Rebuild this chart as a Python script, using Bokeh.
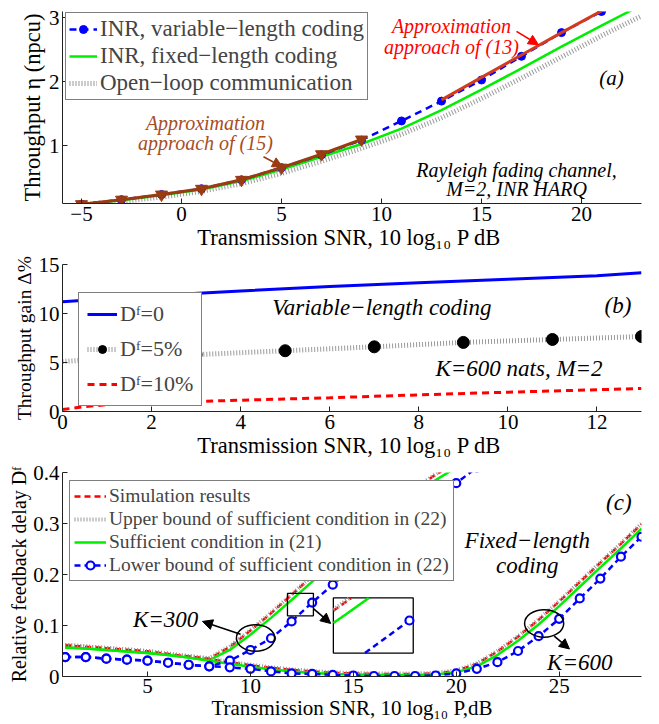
from bokeh.plotting import figure
from bokeh.layouts import column
from bokeh.models import Legend, LegendItem, Label, Arrow, NormalHead, Range1d, FixedTicker, Title
from bokeh.embed import file_html
from bokeh.resources import INLINE
import numpy as np

SERIF = "Liberation Serif"
BLUE = "#0000ff"
GREEN = "#00ee00"
GREY = "#9a9a9a"
RED = "#ff0000"
BROWN = "#9a3b12"
ORANGE_RED = "#d23c1e"
TXT15 = "#a84c24"

# ---------------- panel (a) data ----------------
a_x = [-5, -3, -1, 1, 3, 5, 7, 9, 11, 13, 15, 17, 19, 21]
a_var = [0.09, 0.16, 0.24, 0.33, 0.47, 0.66, 0.86, 1.09, 1.39, 1.70, 2.03, 2.40, 2.77, 3.10]
a_fix_x = [-5, -3, -1, 1, 3, 5, 7, 9, 11, 13, 15, 17, 19, 21, 22.5]
a_fix = [0.09, 0.15, 0.23, 0.32, 0.45, 0.63, 0.83, 1.03, 1.27, 1.56, 1.88, 2.21, 2.55, 2.88, 3.12]
a_ol_x = [-5, -3, -1, 1, 3, 5, 7, 9, 11, 13, 15, 17, 19, 21, 23]
a_ol = [0.08, 0.13, 0.20, 0.29, 0.41, 0.57, 0.76, 0.96, 1.18, 1.44, 1.74, 2.06, 2.39, 2.72, 3.03]
a_ap15_x = [-5, -3, -1, 1, 3, 5, 7, 9]
a_ap15 = [0.09, 0.16, 0.24, 0.33, 0.47, 0.66, 0.87, 1.10]
a_ap13_x = [13, 15, 17, 19, 21]
a_ap13 = [1.72, 2.07, 2.42, 2.77, 3.11]
a_xticks = [-5, 0, 5, 10, 15, 20]
a_yticks = [1, 2, 3]

# ---------------- panel (b) data ----------------
b_d0_x = [0, 2, 4, 6, 8, 10, 12, 13]
b_d0 = [11.2, 11.8, 12.3, 12.75, 13.15, 13.5, 13.85, 14.15]
b_d5_x = [0, 1, 3, 5, 7, 9, 11, 13]
b_d5 = [5.1, 5.4, 5.8, 6.2, 6.6, 7.05, 7.35, 7.65]
b_d5_mx = [1, 3, 5, 7, 9, 11, 13]
b_d5_m = [5.4, 5.8, 6.2, 6.6, 7.05, 7.35, 7.65]
b_d10_x = [0, 0.5, 1, 2, 4, 6, 8, 10, 12, 13]
b_d10 = [0.2, 0.5, 0.7, 0.9, 1.15, 1.4, 1.7, 1.97, 2.22, 2.35]
b_xticks = [0, 2, 4, 6, 8, 10, 12]
b_yticks = [0, 5, 10, 15]

# ---------------- panel (c) data ----------------
c300_x = list(range(1, 21))
c300_sim = [0.061, 0.058, 0.055, 0.052, 0.049, 0.044, 0.039, 0.035, 0.058, 0.090,
            0.124, 0.160, 0.197, 0.234, 0.270, 0.305, 0.338, 0.368, 0.396, 0.420]
c300_up = [0.062, 0.059, 0.056, 0.053, 0.050, 0.045, 0.040, 0.036, 0.059, 0.091,
           0.125, 0.161, 0.198, 0.235, 0.271, 0.306, 0.339, 0.369, 0.397, 0.421]
c300_suf = [0.057, 0.055, 0.052, 0.049, 0.046, 0.042, 0.037, 0.032, 0.052, 0.082,
            0.115, 0.150, 0.186, 0.222, 0.258, 0.293, 0.326, 0.357, 0.385, 0.410]
c300_lo_x = list(range(1, 22))
c300_lo = [0.038, 0.038, 0.035, 0.033, 0.031, 0.027, 0.023, 0.020, 0.031, 0.052,
           0.075, 0.108, 0.145, 0.180, 0.215, 0.250, 0.285, 0.318, 0.350, 0.379, 0.410]
c600_x = list(range(1, 30))
c600_sim = [0.061, 0.058, 0.055, 0.052, 0.049, 0.044, 0.039, 0.034, 0.028, 0.022,
            0.017, 0.013, 0.010, 0.007, 0.006, 0.005, 0.005, 0.005, 0.006, 0.011,
            0.025, 0.049, 0.078, 0.111, 0.147, 0.185, 0.223, 0.260, 0.299]
c600_up = [0.062, 0.059, 0.056, 0.053, 0.050, 0.045, 0.040, 0.035, 0.029, 0.023,
           0.018, 0.014, 0.011, 0.008, 0.007, 0.006, 0.006, 0.006, 0.007, 0.012,
           0.026, 0.050, 0.079, 0.112, 0.148, 0.186, 0.224, 0.261, 0.300]
c600_suf = [0.057, 0.055, 0.052, 0.049, 0.046, 0.042, 0.037, 0.031, 0.025, 0.019,
            0.014, 0.010, 0.007, 0.005, 0.004, 0.003, 0.003, 0.003, 0.004, 0.008,
            0.020, 0.042, 0.070, 0.102, 0.138, 0.176, 0.214, 0.251, 0.290]
c600_lo = [0.038, 0.038, 0.035, 0.033, 0.031, 0.027, 0.023, 0.020, 0.018, 0.015,
           0.010, 0.006, 0.005, 0.003, 0.002, 0.001, 0.001, 0.001, 0.002, 0.006,
           0.015, 0.028, 0.050, 0.079, 0.113, 0.153, 0.192, 0.235, 0.274]
c_xticks = [5, 10, 15, 20, 25]
c_yticks = [0, 0.1, 0.2, 0.3, 0.4]
# zoom box (data window) and inset placement
zoom_x = (11.8, 13.06)
zoom_y = (0.119, 0.163)
inset_x = (14.03, 17.91)
inset_y = (0.046, 0.154)


def make_fig(h, top, bottom, xr, yr, xticks, yticks, label_size="22.5px"):
    p = figure(width=655, height=h, output_backend="svg", toolbar_location=None,
               x_range=Range1d(*xr), y_range=Range1d(*yr),
               min_border_left=62, min_border_right=14,
               min_border_top=top, min_border_bottom=bottom)
    p.outline_line_color = None
    p.grid.visible = False
    p.xaxis.ticker = FixedTicker(ticks=xticks)
    p.yaxis.ticker = FixedTicker(ticks=yticks)
    for ax in (p.xaxis[0], p.yaxis[0]):
        ax.major_tick_in = 5
        ax.major_tick_out = 0
        ax.minor_tick_line_color = None
        ax.axis_line_color = "#222222"
        ax.major_tick_line_color = "#222222"
        ax.major_label_text_font = SERIF
        ax.major_label_text_font_size = "21px"
        ax.major_label_text_color = "black"
        ax.axis_label_text_font = SERIF
        ax.axis_label_text_font_size = label_size
        ax.axis_label_text_font_style = "normal"
        ax.axis_label_text_color = "black"
        ax.major_label_standoff = 3
        ax.axis_label_standoff = 1
    return p


def side_label(p, text, size, offset):
    p.add_layout(Title(text=text, align="center", offset=offset, standoff=2,
                       text_font=SERIF, text_font_size=size, text_font_style="normal",
                       text_color="black"), "left")


def label(p, x, y, text, color="black", size="20px", style="italic"):
    p.add_layout(Label(x=x, y=y, text=text, text_font=SERIF, text_font_size=size,
                       text_font_style=style, text_color=color,
                       text_align="center", text_baseline="middle"))


def arrow(p, x0, y0, x1, y1, color="black"):
    p.add_layout(Arrow(end=NormalHead(size=10, fill_color=color, line_color=color),
                       x_start=x0, y_start=y0, x_end=x1, y_end=y1,
                       line_color=color, line_width=1.6))


def style_legend(lg, size, pad, spacing, gw):
    lg.label_text_font = SERIF
    lg.label_text_font_size = size
    lg.border_line_color = "black"
    lg.border_line_width = 1.2
    lg.background_fill_color = "white"
    lg.background_fill_alpha = 1.0
    lg.padding = pad
    lg.spacing = spacing
    lg.margin = 0
    lg.glyph_width = gw
    lg.label_standoff = 3
    lg.label_height = 20


# ================= panel (a) =================
pa = make_fig(252, 11, 49, (-5.95, 23), (0.1, 3.1), a_xticks, a_yticks)
pa.xaxis.axis_label = "Transmission SNR, 10 log\u2081\u2080 P  dB"
pa.yaxis.axis_label = "Throughput \u03b7 (npcu)"
pa.xaxis.major_label_overrides = {-5: "\u22125"}

r_ol = pa.line(a_ol_x, a_ol, line_color=GREY, line_width=5, line_dash="1 2")
r_fix = pa.line(a_fix_x, a_fix, line_color=GREEN, line_width=2.5)
r_var = pa.line(a_x, a_var, line_color=BLUE, line_width=2.5, line_dash="7 5")
r_varm = pa.scatter(a_x, a_var, marker="circle", size=8, fill_color=BLUE, line_color=BLUE)
pa.line(a_ap15_x, a_ap15, line_color=BROWN, line_width=3)
pa.scatter(a_ap15_x, a_ap15, marker="inverted_triangle", size=12, fill_color=BROWN, line_color=BROWN)
pa.line(a_ap13_x, a_ap13, line_color=ORANGE_RED, line_width=3)

lga = Legend(items=[LegendItem(label="INR, variable\u2212length coding", renderers=[r_var, r_varm]),
                    LegendItem(label="INR, fixed\u2212length coding", renderers=[r_fix]),
                    LegendItem(label="Open\u2212loop communication", renderers=[r_ol])],
             location=(3, 103))
style_legend(lga, "23px", 3, 1, 28)
pa.add_layout(lga)

label(pa, 1.2, 1.36, "Approximation", TXT15)
label(pa, 1.2, 1.05, "approach of (15)", TXT15)
arrow(pa, 4.1, 0.83, 5.05, 0.67, BROWN)
label(pa, 13.5, 2.88, "Approximation", RED)
label(pa, 13.5, 2.55, "approach of (13)", RED)
arrow(pa, 16.75, 2.79, 17.85, 2.58, RED)
label(pa, 21.5, 2.06, "(a)", size="21px")
label(pa, 16.75, 0.63, "Rayleigh fading channel,")
label(pa, 16.75, 0.32, "M=2, INR HARQ")

# ================= panel (b) =================
pb = make_fig(208, 12, 48, (0, 13), (0, 15), b_xticks, b_yticks)
pb.xaxis.axis_label = "Transmission SNR, 10 log\u2081\u2080 P  dB"
side_label(pb, "Throughput gain \u0394%", "19.5px", -4)

r_d0 = pb.line(b_d0_x, b_d0, line_color=BLUE, line_width=3)
r_d5 = pb.line(b_d5_x, b_d5, line_color=GREY, line_width=5, line_dash="1 2")
r_d5m = pb.scatter(b_d5_mx, b_d5_m, marker="circle", size=12, fill_color="black", line_color="black")
r_d10 = pb.line(b_d10_x, b_d10, line_color=RED, line_width=3, line_dash="7 5")

lgb = Legend(items=[LegendItem(label="D\u1da0=0", renderers=[r_d0]),
                    LegendItem(label="D\u1da0=5%", renderers=[r_d5, r_d5m]),
                    LegendItem(label="D\u1da0=10%", renderers=[r_d10])],
             location=(16, 5))
style_legend(lgb, "22px", 8, 9, 30)
pb.add_layout(lgb)

label(pb, 7.17, 10.6, "Variable\u2212length coding", size="23px")
label(pb, 12.47, 10.8, "(b)", size="23px")
label(pb, 10.25, 4.4, "K=600 nats, M=2", size="23px")

# ================= panel (c) =================
pc = make_fig(262, 12, 46, (0.87, 29), (0, 0.4), c_xticks, c_yticks, label_size="21px")
pc.xaxis.axis_label = "Transmission SNR, 10 log\u2081\u2080 P,dB"
pc.xaxis.major_label_standoff = 2
pc.xaxis.axis_label_standoff = 0
pc.yaxis.major_label_overrides = {0: "0"}
side_label(pc, "Relative feedback delay D\u1da0", "20px", -14)

for xs, sim, up, suf in ((c300_x, c300_sim, c300_up, c300_suf), (c600_x, c600_sim, c600_up, c600_suf)):
    r_sim = pc.line(xs, sim, line_color=RED, line_width=2.5, line_dash="6 4")
    r_up = pc.line(xs, up, line_color=GREY, line_width=4, line_dash="1 2")
    r_suf = pc.line(xs, suf, line_color=GREEN, line_width=2.5)
for xs, lo in ((c300_lo_x, c300_lo), (c600_x, c600_lo)):
    r_lo = pc.line(xs, lo, line_color=BLUE, line_width=2.5, line_dash="6 4")
    r_lom = pc.scatter(xs, lo, marker="circle", size=8, fill_color="white", line_color=BLUE, line_width=2.2)

pc.rect(x=[(zoom_x[0] + zoom_x[1]) / 2], y=[(zoom_y[0] + zoom_y[1]) / 2],
        width=zoom_x[1] - zoom_x[0], height=zoom_y[1] - zoom_y[0],
        fill_color=None, line_color="black", line_width=1.3)
pc.rect(x=[(inset_x[0] + inset_x[1]) / 2], y=[(inset_y[0] + inset_y[1]) / 2],
        width=inset_x[1] - inset_x[0], height=inset_y[1] - inset_y[0],
        fill_color="white", line_color="black", line_width=1.3)


def to_inset(xs, ys):
    g = np.linspace(zoom_x[0], zoom_x[1], 200)
    v = np.interp(g, xs, ys)
    v = np.where((v >= zoom_y[0]) & (v <= zoom_y[1]), v, np.nan)
    ix = inset_x[0] + (g - zoom_x[0]) / (zoom_x[1] - zoom_x[0]) * (inset_x[1] - inset_x[0])
    iy = inset_y[0] + (v - zoom_y[0]) / (zoom_y[1] - zoom_y[0]) * (inset_y[1] - inset_y[0])
    return ix, iy


ix, iy = to_inset(c300_x, c300_sim)
pc.line(ix, iy, line_color=RED, line_width=2.5, line_dash="6 4")
ix, iy = to_inset(c300_x, c300_up)
pc.line(ix, iy, line_color=GREY, line_width=4, line_dash="1 2")
ix, iy = to_inset(c300_x, c300_suf)
pc.line(ix, iy, line_color=GREEN, line_width=2.5)
ix, iy = to_inset(c300_lo_x, c300_lo)
pc.line(ix, iy, line_color=BLUE, line_width=2.5, line_dash="6 4")
mx = [x for x, y in zip(c300_lo_x, c300_lo) if zoom_x[0] <= x <= zoom_x[1] and zoom_y[0] <= y <= zoom_y[1]]
my = [y for x, y in zip(c300_lo_x, c300_lo) if zoom_x[0] <= x <= zoom_x[1] and zoom_y[0] <= y <= zoom_y[1]]
mx = [inset_x[0] + (x - zoom_x[0]) / (zoom_x[1] - zoom_x[0]) * (inset_x[1] - inset_x[0]) for x in mx]
my = [inset_y[0] + (y - zoom_y[0]) / (zoom_y[1] - zoom_y[0]) * (inset_y[1] - inset_y[0]) for y in my]
pc.scatter(mx, my, marker="circle", size=8, fill_color="white", line_color=BLUE, line_width=2.2)
arrow(pc, 13.06, 0.133, 13.9, 0.104)

pc.ellipse(x=[10.25], y=[0.0756], width=1.86, height=0.052, fill_color=None, line_color="black", line_width=1.5)
pc.ellipse(x=[24.27], y=[0.104], width=1.9, height=0.054, fill_color=None, line_color="black", line_width=1.5)
arrow(pc, 9.52, 0.083, 7.67, 0.108)
arrow(pc, 24.76, 0.079, 25.5, 0.054)
label(pc, 5.88, 0.112, "K=300", size="23px")
label(pc, 26.0, 0.027, "K=600", size="23px")
label(pc, 27.9, 0.342, "(c)", size="23px")
label(pc, 23.45, 0.267, "Fixed\u2212length", size="23px")
label(pc, 23.45, 0.217, "coding", size="23px")

lgc = Legend(items=[LegendItem(label="Simulation results", renderers=[r_sim]),
                    LegendItem(label="Upper bound of sufficient condition in (22)", renderers=[r_up]),
                    LegendItem(label="Sufficient condition in (21)", renderers=[r_suf]),
                    LegendItem(label="Lower bound of sufficient condition in (22)", renderers=[r_lo, r_lom])],
             location=(7, 95))
style_legend(lgc, "19.5px", 4, 1, 32)
pc.add_layout(lgc)

layout = column(pa, pb, pc, spacing=0)
open("out.html", "w").write(file_html(layout, INLINE))
